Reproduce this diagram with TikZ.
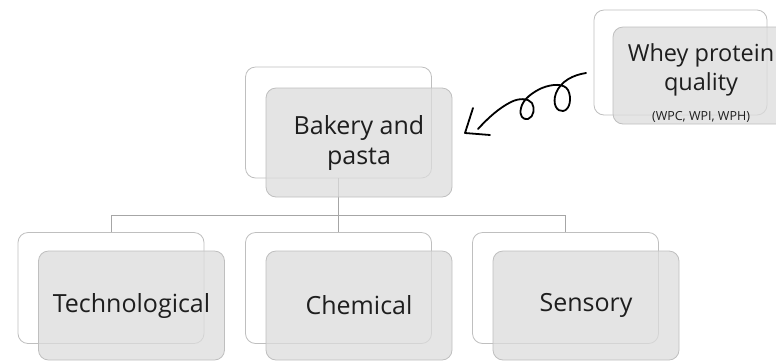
\documentclass[tikz,border=0pt]{standalone}
\usepackage{fontspec}
\setmainfont{Open Sans}
\usetikzlibrary{calc}
\definecolor{boxline}{HTML}{BFBFBF}
\definecolor{frontfill}{HTML}{DCDCDC}
\definecolor{connline}{HTML}{A6A6A6}
\definecolor{txt}{HTML}{1E1E1E}
\begin{document}
\begin{tikzpicture}[x=1pt,y=-1pt,
 backbox/.style={draw=boxline, line width=0.8pt, fill=white, rounded corners=10pt, minimum width=186pt, minimum height=111pt, inner sep=0pt},
 frontbox/.style={draw=boxline, line width=0.8pt, fill=frontfill, fill opacity=0.75, text opacity=1, rounded corners=10pt, minimum width=186pt, minimum height=109pt, inner sep=0pt, text=txt, font=\fontsize{25}{30}\selectfont, align=center},
 conn/.style={draw=connline, line width=0.8pt},
 curly/.style={line width=1.8pt, line cap=round, line join=round, draw=black}]
\useasboundingbox (0,0) rectangle (776,360);
\clip (0,0) rectangle (776,360);
% back boxes
\node[backbox, minimum width=173pt, minimum height=105pt] (wheyB) at (680.5,62.5) {};
\node[backbox] (bakB) at (338.5,122.5) {};
\node[backbox] (techB) at (111,288) {};
\node[backbox] (chemB) at (338.5,288) {};
\node[backbox] (sensB) at (565.5,288) {};
% connectors
\coordinate (junc) at ($(bakB.south)+(0,37)$);
\draw[conn] (bakB.south) -- (chemB.north);
\draw[conn] (techB.north) |- (junc) -| (sensB.north);
% front boxes
\node[frontbox, minimum width=173pt, minimum height=97pt] (whey) at (699.5,75.5) {};
\node[frontbox] (bak) at (359,142.5) {Bakery and\\pasta};
\node[frontbox] (tech) at (131.5,305.5) {Technological};
\node[frontbox] (chem) at (359,305.5) {Chemical};
\node[frontbox] (sens) at (586,305.5) {Sensory};
\node[text=txt, align=center, font=\fontsize{23.5}{29}\selectfont] (wheyT) at (701,83)
  {Whey protein\\quality\\[1pt]{\fontsize{12.5}{15}\selectfont (WPC, WPI, WPH)}};
% curly arrow
\coordinate (arrS) at (586,73);
\coordinate (arrT) at (465,133);
\draw[curly] (arrS)
  .. controls (573,75) and (561,81) .. (556,93)
  .. controls (552,104) and (557,112) .. (563,111)
  .. controls (570,110) and (572,98) .. (568,90)
  .. controls (564,83) and (552,84) .. (542,88)
  .. controls (533,92) and (523,99) .. (521,108)
  .. controls (519,116) and (523,120) .. (528,119)
  .. controls (534,117) and (535,108) .. (532,103)
  .. controls (528,98) and (519,98) .. (511,102)
  .. controls (499,108) and (488,118) .. (478,129);
\draw[curly] (473,108) -- (arrT) -- (490,135);
\end{tikzpicture}
\end{document}
